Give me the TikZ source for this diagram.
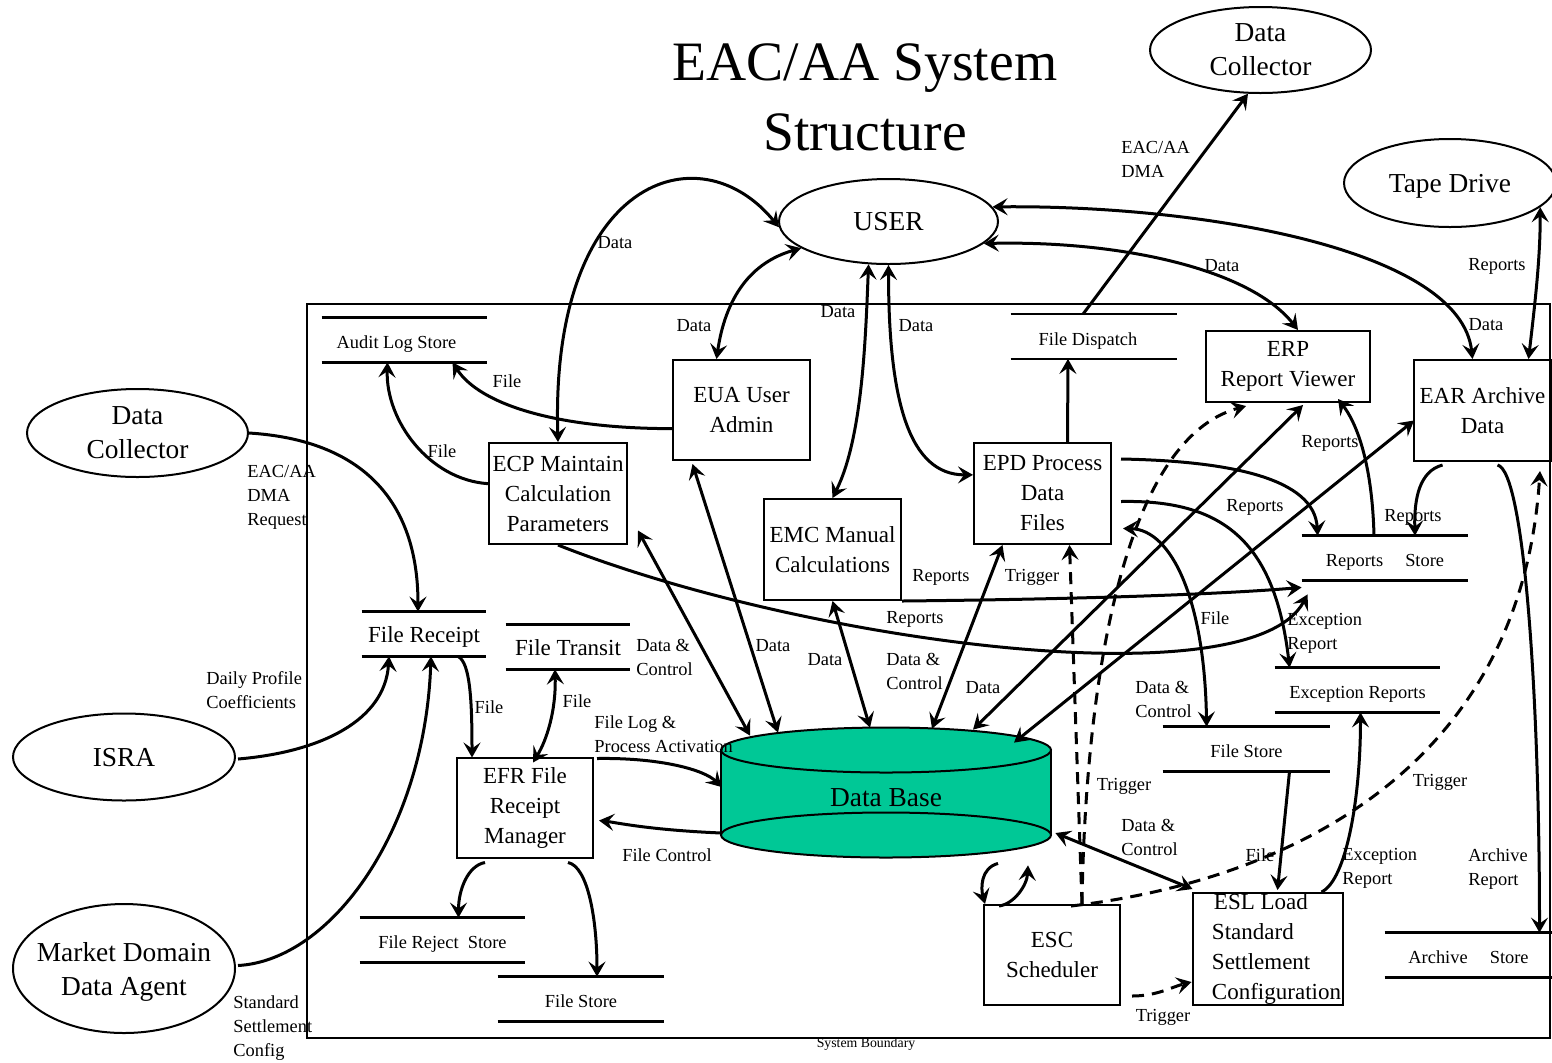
\documentclass[tikz,border=0pt]{standalone}
\usepackage{fontspec}
\setmainfont{Liberation Serif}
\usetikzlibrary{calc, shapes.geometric, arrows.meta}

\definecolor{dbgreen}{RGB}{0,200,150}
\newcommand{\lblfont}{\fontsize{9.2}{12}\selectfont}
\newcommand{\boxfont}{\fontsize{11.5}{15}\selectfont}
\newcommand{\extfont}{\fontsize{13.7}{17}\selectfont}
\newcommand{\storefont}{\fontsize{9.2}{12}\selectfont}

\tikzset{
  proc/.style={draw, line width=1pt, inner sep=0pt, align=center, font=\boxfont},
  ext/.style={draw, ellipse, line width=1pt, inner sep=0pt, text depth=0pt, align=center, font=\extfont},
  store/.style={inner sep=0pt, minimum height=22pt, text height=9.5pt, text depth=1pt, font=\storefont},
  flow/.style={line width=1.5pt},
  trig/.style={line width=1.5pt, dash pattern=on 6pt off 4pt},
  lbl/.style={inner sep=0pt, font=\lblfont, align=left}
}

\begin{document}
\begin{tikzpicture}[x=0.5pt, y=-0.5pt, >={Stealth[length=7.5pt,width=8.5pt,inset=3pt]}]
\useasboundingbox (0,0) rectangle (1552,1062);

% title and boundary
\node[align=center, font=\fontsize{27.8}{35}\selectfont] (title) at (865,97) {EAC/AA System\\Structure};
\draw[line width=1pt] (307,304) rectangle (1550,1038);
\node[inner sep=0pt, font=\fontsize{6.9}{8}\selectfont] (sb) at (866,1044) {System Boundary};

% data base
\fill[dbgreen] (886,835) ellipse [x radius=82.5pt, y radius=11.25pt];
\fill[dbgreen] (721,750) rectangle (1051,835);
\draw[line width=1pt] (886,835) ellipse [x radius=82.5pt, y radius=11.25pt];
\draw[line width=1pt] (721,750) -- (721,835) (1051,750) -- (1051,835);
\filldraw[fill=dbgreen, line width=1pt] (886,750) ellipse [x radius=82.5pt, y radius=11.25pt];
\node[inner sep=0pt, minimum width=165pt, minimum height=65pt, text height=13pt, text depth=0pt, font=\extfont] (db) at (886,793) {Data Base};

% external entities
\node[ext, minimum width=109.5pt, minimum height=42.5pt] (user) at (888.5,221.5) {USER};
\node[ext, minimum width=110.5pt, minimum height=43pt] (dctop) at (1260.5,50) {Data\\Collector};
\node[ext, minimum width=106pt, minimum height=44pt] (tape) at (1450,183) {Tape Drive};
\node[ext, minimum width=110.5pt, minimum height=44pt] (dcleft) at (137.5,433) {Data\\Collector};
\node[ext, minimum width=111pt, minimum height=43.5pt] (isra) at (124,757) {ISRA};
\node[ext, minimum width=111pt, minimum height=64.5pt, inner xsep=-15pt] (mdda) at (124,968.5) {Market Domain\\Data Agent};

% processes
\node[proc, minimum width=68.5pt, minimum height=50pt] (eua) at (741.5,410) {EUA User\\Admin};
\node[proc, minimum width=69pt, minimum height=50.5pt] (ecp) at (558,493.5) {ECP Maintain\\Calculation\\Parameters};
\node[proc, minimum width=68.5pt, minimum height=50.5pt] (emc) at (832.5,549.5) {EMC Manual\\Calculations};
\node[proc, minimum width=68.5pt, minimum height=50.5pt] (epd) at (1042.5,493.5) {EPD Process\\Data\\Files};
\node[proc, minimum width=82pt, minimum height=35.5pt] (erp) at (1288,366.5) {ERP\\Report Viewer};
\node[proc, minimum width=68.5pt, minimum height=50.5pt] (ear) at (1482.5,410.5) {EAR Archive\\Data};
\node[proc, minimum width=68pt, minimum height=50pt] (efr) at (525,807.5) {EFR File\\Receipt\\Manager};
\node[proc, minimum width=68pt, minimum height=50pt] (esc) at (1052,955) {ESC\\Scheduler};
\node[proc, minimum width=75pt, minimum height=56pt, align=left] (esl) at (1267.5,949)
  {\hspace*{10pt}ESL Load\\\hspace*{9pt}Standard\\\hspace*{9pt}Settlement\\\hspace*{9pt}Configuration};

% stores
\node[store, minimum width=82.5pt] (als) at (404.5,340) {\hspace{-8pt}Audit Log Store};
\node[store, minimum width=83pt] (fdisp) at (1094,336.5) {\hspace{-6pt}File Dispatch};
\node[store, minimum width=83pt] (rstore) at (1385,558) {Reports\hspace{1.2em}Store};
\node[store, minimum width=82.5pt] (exrep) at (1357.5,690) {Exception Reports};
\node[store, minimum width=62pt, font=\boxfont] (frec) at (424,634) {File Receipt};
\node[store, minimum width=62pt, font=\boxfont] (ftrans) at (568,647) {File Transit};
\node[store, minimum width=83.5pt] (fstore) at (1246.5,749) {File Store};
\node[store, minimum width=82.5pt] (freject) at (442.5,940) {File Reject~ Store};
\node[store, minimum width=83pt] (fstore2) at (581,999) {File Store};
\node[store, minimum width=83.5pt] (archstore) at (1468.5,955) {Archive\hspace{1.2em}Store};
\foreach \s in {als,fdisp,rstore,exrep,frec,ftrans,fstore,freject,fstore2,archstore}
  \draw[line width=1.2pt] (\s.north west) -- (\s.north east) (\s.south west) -- (\s.south east);

% flows to and from the user
\draw[flow,<->] (ecp.north) .. controls +(-8,-263) and +(-80,-98) .. (user.183);
\draw[flow,<->] ($(eua.north)+(-25,0)$) .. controls +(9,-62) and +(-50,14) .. (user.197);
\draw[flow,<->] (emc.north) .. controls +(30,-60) and +(-3,74) .. (user.245);
\draw[flow,<->] (user.south) .. controls +(0,136) and +(-64,0) .. (epd.165);
\draw[flow,<->] (user.347) .. controls +(137,-3) and +(-48,-61) .. ($(erp.north)+(10,0)$);
\draw[flow,<->] (user.8) .. controls +(209,-2) and +(-12,-110) .. ($(ear.north)+(-10,0)$);
\draw[flow,->] ($(fdisp.north)+(-11,0)$) -- (dctop.254);
\draw[flow,<->] ($(ear.north)+(46,0)$) .. controls +(7,-60) and +(0,50) .. (tape.345);
\draw[flow,->] ($(epd.north)+(25,0)$) -- ($(fdisp.south)+(-26,0)$);

% audit log and reports
\draw[flow,->] (eua.195) .. controls +(-113,0) and +(28,43) .. ($(als.south)+(48,0)$);
\draw[flow,->] (ecp.172) .. controls +(-59,-4) and +(-2,58) .. ($(als.south)+(-17,0)$);
\draw[flow,->] (ecp.south) .. controls +(242,96) and +(-58,108) .. ($(rstore.south west)+(6,14)$);
\draw[flow,->] (emc.south east) .. controls +(200,-2) and +(-70,6) .. ($(rstore.south west)+(0,7)$);
\draw[flow,->] ($(epd.north east)+(9,17)$) .. controls +(110,2) and +(-3,-57) .. ($(rstore.north west)+(16,0)$);
\draw[flow,->] ($(epd.east)+(9,8)$) .. controls +(100,-2) and +(-15,-128) .. ($(exrep.north west)+(15,0)$);
\draw[flow,->] ($(rstore.north)+(-11,0)$) .. controls +(-2,-77) and +(17,22) .. ($(erp.south)+(50,-4)$);
\draw[flow,->] ($(ear.south)+(-40,3)$) .. controls +(-23,6) and +(-1,-37) .. ($(rstore.north)+(30,0)$);
\draw[flow,->] ($(ear.south)+(15,3)$) .. controls +(27,6) and +(0,-233) .. ($(archstore.north)+(71,0)$);

% data base flows
\draw[flow,<->] ($(db.north)+(87,2)$) -- ($(erp.south)+(15,2)$);
\draw[flow,<->] ($(db.north)+(128,15)$) -- ($(ear.west)+(1,10)$);
\draw[flow,<->] ($(ecp.east)+(10,37)$) -- ($(db.north)+(-136,8)$);
\draw[flow,<->] ($(eua.south)+(-49,3)$) -- ($(db.north)+(-108,5)$);
\draw[flow,<->] (emc.south) -- ($(db.north)+(-16,0)$);
\draw[flow,<->] ($(epd.south)+(-40,0)$) -- ($(db.north)+(46,1)$);
\draw[flow,<->] ($(epd.east)+(11,35)$) .. controls +(48,1) and +(-2,-128) .. ($(fstore.north west)+(44,0)$);
\draw[flow,->] ($(fstore.south)+(43,0)$) -- ($(esl.north)+(10,-2)$);
\draw[flow,->] ($(esl.north east)+(-22,0)$) .. controls +(25,-12) and +(0,85) .. ($(exrep.south)+(3,0)$);
\draw[flow,<->] ($(db.east)+(4,40)$) -- ($(esl.north west)+(1,-3)$);
\draw[flow,->] ($(db.south)+(112,5)$) .. controls +(-18,5) and +(-4,-15) .. ($(esc.north west)+(2,0)$);
\draw[flow,->] ($(esc.north west)+(16,2)$) .. controls +(15,-2) and +(-1,20) .. ($(db.south)+(142,7)$);

% triggers
\draw[trig,->] ($(esc.north)+(30,0)$) -- ($(epd.south)+(27,0)$);
\draw[trig,->] ($(esc.north)+(30,0)$) .. controls +(3,-205) and +(-127,35) .. ($(erp.south west)+(41,3)$);
\draw[trig,->] ($(esc.north)+(19,2)$) .. controls +(229,-27) and +(-19,290) .. ($(ear.south east)+(-12,9)$);
\draw[trig,->] ($(esc.south east)+(11,-10)$) .. controls +(25,0) and +(-20,5) .. ($(esl.west)+(0,33)$);

% file receipt side
\draw[flow,->] ($(efr.north east)+(3,2)$) .. controls +(64,-1) and +(-17,-17) .. ($(db.west)+(1,-6)$);
\draw[flow,->] ($(db.west)+(1,40)$) .. controls +(-72,-3) and +(17,2) .. ($(efr.east)+(5,13)$);
\draw[flow,->] ($(frec.south)+(34,0)$) .. controls +(12,6) and +(0,-58) .. ($(efr.north west)+(16,1)$);
\draw[flow,<->] ($(ftrans.south)+(-13,0)$) .. controls +(1,41) and +(14,-23) .. ($(efr.north)+(8,6)$);
\draw[flow,->] ($(efr.south)+(-40,4)$) .. controls +(-17,3) and +(0,-28) .. ($(freject.north)+(16,0)$);
\draw[flow,->] ($(efr.south)+(43,4)$) .. controls +(20,4) and +(0,-57) .. ($(fstore2.north)+(16,0)$);
\draw[flow,->] (dcleft.east) .. controls +(112,7) and +(0,-112) .. ($(frec.north)+(-6,0)$);
\draw[flow,->] ($(isra.east)+(2,2)$) .. controls +(83,-7) and +(-4,64) .. ($(frec.south)+(-35,0)$);
\draw[flow,->] ($(mdda.east)+(2,-3)$) .. controls +(93,-5) and +(-6,174) .. ($(frec.south)+(7,0)$);

% labels
\node[lbl] (lA) at (615,243) {Data};
\node[lbl] (lB) at (694,326) {Data};
\node[lbl] (lC) at (838,312) {Data};
\node[lbl] (lD) at (916,326) {Data};
\node[lbl] (lE) at (1222,266) {Data};
\node[lbl] (lF) at (1497,266) {Reports};
\node[lbl] (lG) at (1486,325) {Data};
\node[lbl, anchor=north west] (lH) at (1121,141) {EAC/AA\\DMA};
\node[lbl] (lI) at (507,381) {File};
\node[lbl] (lJ) at (442,451) {File};
\node[lbl, anchor=north west] (lK) at (247,465) {EAC/AA\\DMA\\Request};
\node[lbl] (lL) at (1330,443) {Reports};
\node[lbl] (lM) at (1255,507) {Reports};
\node[lbl] (lN) at (1413,517) {Reports};
\node[lbl] (lO) at (941,577) {Reports};
\node[lbl] (lP) at (1032,577) {Trigger};
\node[lbl] (lQ) at (915,619) {Reports};
\node[lbl] (lR) at (1215,618) {File};
\node[lbl, anchor=north west] (lS) at (1287,613) {Exception\\Report};
\node[lbl, anchor=north west] (lT) at (636,639) {Data \&\\Control};
\node[lbl] (lU) at (773,646) {Data};
\node[lbl] (lV) at (825,660) {Data};
\node[lbl, anchor=north west] (lW) at (886,653) {Data \&\\Control};
\node[lbl] (lX) at (983,688) {Data};
\node[lbl, anchor=north west] (lY) at (1135,681) {Data \&\\Control};
\node[lbl, anchor=north west] (lZ) at (206,671) {Daily Profile\\Coefficients};
\node[lbl] (la) at (489,707) {File};
\node[lbl] (lb) at (577,701) {File};
\node[lbl, anchor=north west] (lc) at (594,715) {File Log \&\\Process Activation};
\node[lbl] (ld) at (1124,786) {Trigger};
\node[lbl] (le) at (1440,782) {Trigger};
\node[lbl, anchor=north west] (lf) at (1121,819) {Data \&\\Control};
\node[lbl] (lg) at (667,855) {File Control};
\node[lbl] (lh) at (1260,855) {File};
\node[lbl, anchor=north west] (li) at (1342,848) {Exception\\Report};
\node[lbl, anchor=north west] (lj) at (1468,848) {Archive\\Report};
\node[lbl] (lk) at (1163,1017) {Trigger};
\node[lbl, anchor=north west] (ll) at (233,995) {Standard\\Settlement\\Config};
\end{tikzpicture}
\end{document}
